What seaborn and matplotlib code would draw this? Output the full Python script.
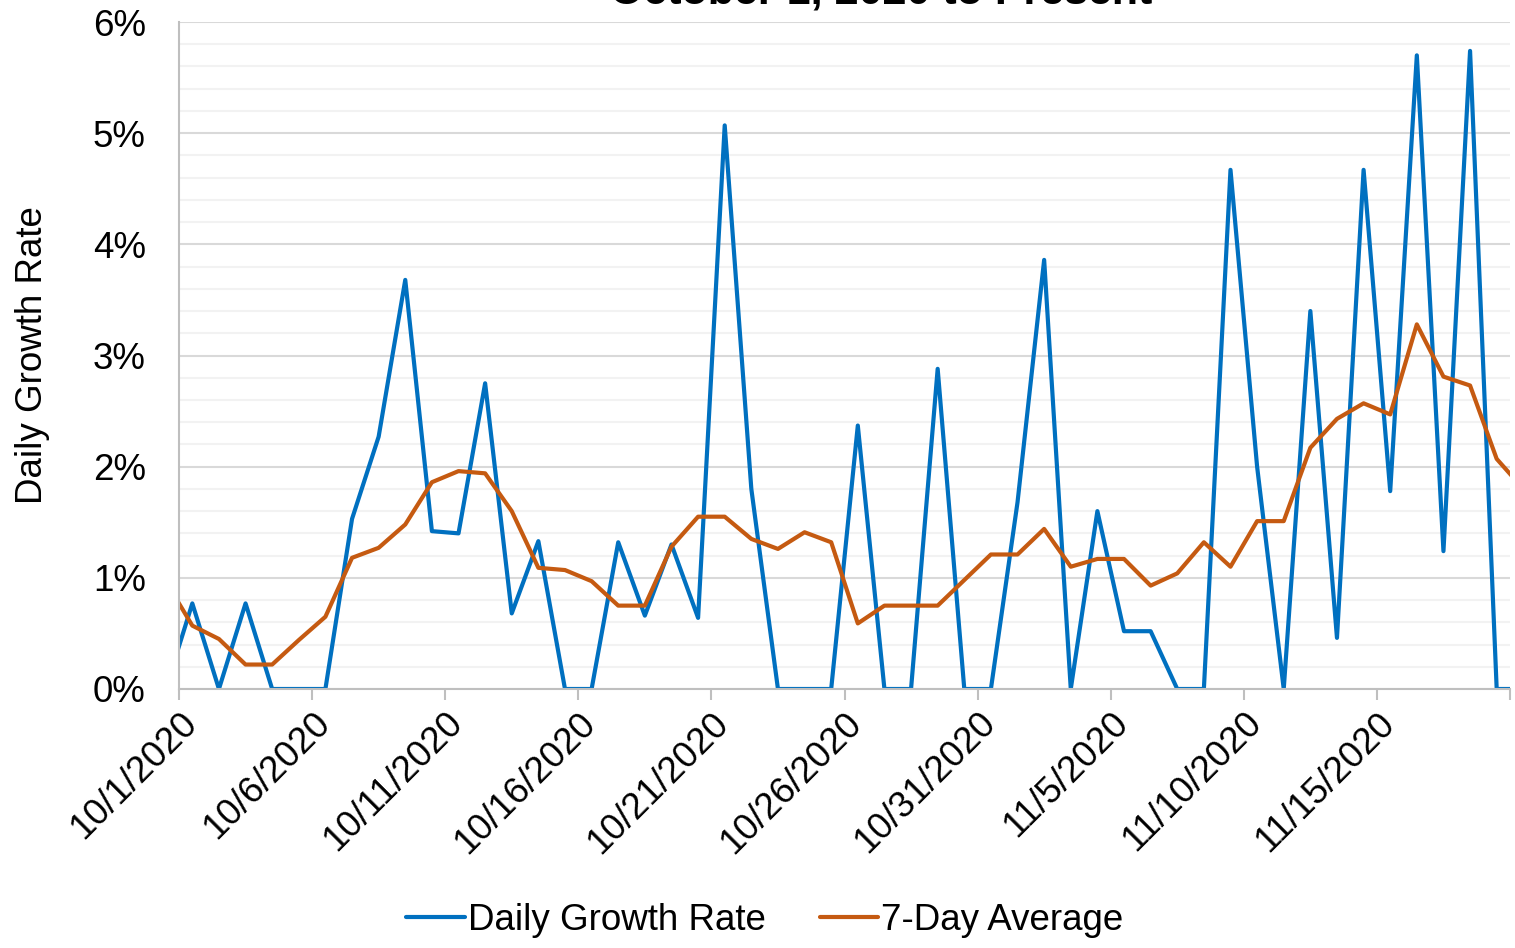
import matplotlib
matplotlib.use("Agg")
import matplotlib.pyplot as plt
import seaborn as sns
import pandas as pd
import numpy as np
from matplotlib.ticker import MultipleLocator, FuncFormatter

# Day index (0 = 10/1/2020); -1 and 50 lie just outside the visible window
day_index = list(range(-1, 51))

daily_growth = [0.00, 0.77, 0.00, 0.77, 0.00, 0.00, 0.00, 1.53, 2.27, 3.68,
                1.42, 1.40, 2.75, 0.68, 1.33, 0.00, 0.00, 1.32, 0.66, 1.30,
                0.64, 5.07, 1.80, 0.00, 0.00, 0.00, 2.37, 0.00, 0.00, 2.88,
                0.00, 0.00, 1.68, 3.86, 0.00, 1.60, 0.52, 0.52, 0.00, 0.00,
                4.67, 2.00, 0.00, 3.40, 0.46, 4.67, 1.78, 5.70, 1.24, 5.74,
                0.00, 0.00]

seven_day_avg = [0.97, 0.57, 0.45, 0.22, 0.22, 0.44, 0.65, 1.18, 1.27, 1.48,
                 1.86, 1.96, 1.94, 1.60, 1.09, 1.07, 0.97, 0.75, 0.75, 1.28,
                 1.55, 1.55, 1.35, 1.26, 1.41, 1.32, 0.59, 0.75, 0.75, 0.75,
                 0.98, 1.21, 1.21, 1.44, 1.10, 1.17, 1.17, 0.93, 1.04, 1.32,
                 1.10, 1.51, 1.51, 2.17, 2.43, 2.57, 2.47, 3.28, 2.81, 2.73,
                 2.07, 1.80]

tick_days = [0, 5, 10, 15, 20, 25, 30, 35, 40, 45, 50]
tick_labels = ["10/1/2020", "10/6/2020", "10/11/2020", "10/16/2020",
               "10/21/2020", "10/26/2020", "10/31/2020", "11/5/2020",
               "11/10/2020", "11/15/2020", ""]

series_names = ["Daily Growth Rate", "7-Day Average"]
colors = ["#0070C0", "#C55A11"]

title_text = "October 1, 2020 to Present"
ylabel_text = "Daily Growth Rate"

sns.set_theme(style="white")
plt.rcParams["font.family"] = ["Liberation Sans", "DejaVu Sans"]
plt.rcParams["text.color"] = "black"
plt.rcParams["axes.labelcolor"] = "black"

x_pos = [d + 0.5 for d in day_index]
df = pd.DataFrame({
    "x": x_pos * 2,
    "value": daily_growth + seven_day_avg,
    "series": [series_names[0]] * len(x_pos) + [series_names[1]] * len(x_pos),
})

fig = plt.figure(figsize=(15.15, 9.48), dpi=100)
ax = fig.add_axes([179 / 1515, 1 - 689 / 948, (1510 - 179) / 1515, (689 - 22) / 948])

sns.lineplot(data=df, x="x", y="value", hue="series", palette=colors,
             linewidth=3.0, ax=ax, legend=True, sort=False)

ax.set_xlim(0, 50)
ax.set_ylim(0, 6)
ax.yaxis.set_major_locator(MultipleLocator(1))
ax.yaxis.set_minor_locator(MultipleLocator(0.2))
ax.yaxis.set_major_formatter(FuncFormatter(lambda v, p: f"{int(round(v))}%"))
ax.grid(True, which="major", axis="y", color="#D9D9D9", linewidth=1.5, zorder=0)
ax.grid(True, which="minor", axis="y", color="#F2F2F2", linewidth=1.5, zorder=0)
ax.grid(False, axis="x")
ax.set_axisbelow(True)

ax.set_xticks(tick_days)
ax.set_xticklabels(tick_labels, rotation=45, ha="right", rotation_mode="anchor",
                   fontsize=26.5)
ax.tick_params(axis="x", which="major", length=8, width=1.5, color="#BFBFBF",
               labelcolor="black", direction="out", bottom=True, pad=4)
ax.tick_params(axis="y", which="both", length=0, labelsize=26.5,
               labelcolor="black", pad=24)

for side in ["top", "right"]:
    ax.spines[side].set_visible(False)
for side in ["left", "bottom"]:
    ax.spines[side].set_color("#BFBFBF")
    ax.spines[side].set_linewidth(1.5)

ax.set_xlabel("")
ax.set_ylabel(ylabel_text, fontsize=26.5)
ax.yaxis.set_label_coords((50 - 179) / 1331, 0.5)

handles, labels = ax.get_legend_handles_labels()
ax.legend_.remove()
fig.legend(handles, labels, loc="center", bbox_to_anchor=(0.505, 1 - 920 / 948),
           ncol=2, frameon=False, fontsize=26.5, handlelength=1.6,
           handletextpad=0.08, columnspacing=1.45)

fig.text(881 / 1515, 1 - 4 / 948, title_text, ha="center", va="baseline",
         fontsize=31, fontweight="bold")

fig.savefig("out.png", dpi=100)
